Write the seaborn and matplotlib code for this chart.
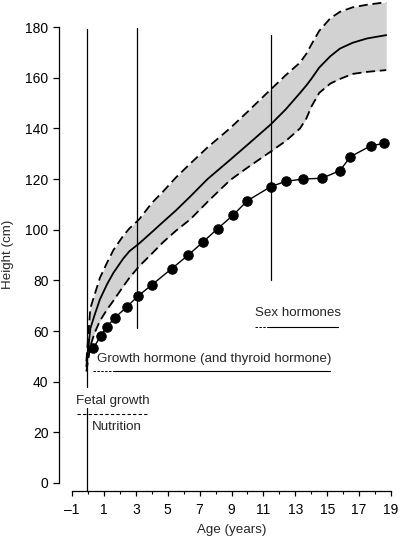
import numpy as np
import pandas as pd
import matplotlib
matplotlib.use("Agg")
import matplotlib.pyplot as plt
import seaborn as sns

# ---- data ----
band_age = [-0.1, 0.15, 0.4, 0.75, 1.2, 1.6, 2.2, 2.6, 3.2, 4.0, 4.7, 5.5, 6.4, 7.5,
            8.9, 10.0, 11.45, 12.4, 13.3, 13.7, 14.0, 14.5, 15.2, 15.8, 16.6, 17.5, 18.7]
mean_height = [46, 61, 66, 72.5, 78.5, 83, 88.5, 91.5, 94.5, 99, 103, 107.5, 113, 120,
               127.5, 133.5, 141.5, 147.5, 154, 157, 159.5, 164, 168.5, 171.5, 173.8, 175.5, 176.8]
upper_height = [48, 69, 74, 81, 87, 92, 97.5, 100.5, 104, 110.5, 115, 120.5, 126, 132.5,
                140, 146.5, 155.3, 161, 166, 169.5, 173, 178.5, 183.5, 186, 187.8, 188.8, 189.8]
lower_height = [44, 54, 59, 64, 68.5, 72, 77.5, 81, 85.5, 90.5, 95, 99.5, 104, 111,
                119.5, 124.5, 130.8, 135, 140, 144, 148.5, 154, 157.7, 159.5, 161.5, 162.3, 163]

child_age = [0.34, 0.80, 1.18, 1.70, 2.43, 3.12, 4.0, 5.25, 6.29, 7.19, 8.13,
             9.11, 9.99, 11.46, 12.42, 13.5, 14.66, 15.8, 16.45, 17.73, 18.58]
child_height = [53.3, 58.0, 61.7, 65.3, 69.5, 73.7, 78.2, 84.6, 90.0, 95.0, 100.4,
                105.8, 111.4, 117.0, 119.1, 120.0, 120.3, 123.3, 128.8, 133.1, 134.1]

# vertical markers (age, top height, bottom height)
marker_age = [-0.08, 3.1, 11.45]
marker_top = [179.2, 179.5, 176.8]
marker_bottom = [37.9, 61.0, 80.0]

# influence ranges
infl_labels = ["Sex hormones", "Growth hormone (and thyroid hormone)", "Fetal growth", "Nutrition"]
sex_range = [10.47, 11.35, 15.7]
gh_range = [0.34, 1.57, 15.2]
fetal_range = [-0.7, 3.7]

x_ticks = [-1, 1, 3, 5, 7, 9, 11, 13, 15, 17, 19]
y_ticks = [0, 20, 40, 60, 80, 100, 120, 140, 160, 180]

# ---- plotting ----
sns.set_style("ticks")
plt.rcParams['font.family'] = ['Liberation Sans', 'DejaVu Sans']

W, H = 400, 538
fig = plt.figure(figsize=(W / 100, H / 100), dpi=100)
ax = fig.add_axes([72 / W, (H - 483) / H, 319 / W, 481.3 / H])

band = pd.DataFrame({"age": band_age, "mean": mean_height,
                     "upper": upper_height, "lower": lower_height})
child = pd.DataFrame({"age": child_age, "height": child_height})

ax.fill_between(band["age"], band["lower"], band["upper"], color="#d2d2d2", lw=0, zorder=1)
sns.lineplot(data=band, x="age", y="mean", ax=ax, color="black", lw=1.3, zorder=3)
for col in ["upper", "lower"]:
    sns.lineplot(data=band, x="age", y=col, ax=ax, color="black", lw=1.3,
                 zorder=3).lines[-1].set_dashes((5, 2.6))
sns.lineplot(data=child, x="age", y="height", ax=ax, color="black", lw=1.0,
             marker="o", markersize=6.8, markeredgecolor="black", zorder=4)

# vertical markers
for a, t, b in zip(marker_age, marker_top, marker_bottom):
    ax.plot([a, a], [b, t], color="black", lw=0.9, zorder=2)
ax.plot([marker_age[0], marker_age[0]], [29.6, -3.0], color="black", lw=0.9,
        clip_on=False, zorder=2)

# influence annotations
fs = 9.6
ax.text(sex_range[0], 67.1, infl_labels[0], fontsize=fs, ha="left", va="center")
ax.plot([sex_range[0], sex_range[1]], [61.7, 61.7], color="black", lw=0.7, dashes=(2.5, 1.5))
ax.plot([sex_range[1], sex_range[2]], [61.7, 61.7], color="black", lw=0.8)

ax.text(0.55, 49.0, infl_labels[1], fontsize=fs, ha="left", va="center")
ax.plot([gh_range[0], gh_range[1]], [44.3, 44.3], color="black", lw=0.7, dashes=(2.5, 1.5))
ax.plot([gh_range[1], gh_range[2]], [44.3, 44.3], color="black", lw=0.8)

ax.text(-0.72, 32.5, infl_labels[2], fontsize=fs, ha="left", va="center")
ax.plot(fetal_range, [27.1, 27.1], color="black", lw=0.8, dashes=(3, 2))
ax.text(0.24, 22.0, infl_labels[3], fontsize=fs, ha="left", va="center")

# axes styling
ax.set_xlim(-1, 19)
ax.set_ylim(0, 190)
ax.set_xticks(x_ticks)
ax.set_xticklabels([str(v).replace("-", "\u2013") for v in x_ticks])
ax.set_xticks(np.arange(0, 19, 2), minor=True)
ax.set_yticks(y_ticks)
ax.set_yticklabels([str(v) for v in y_ticks])
sns.despine(ax=ax)
ax.spines["left"].set_position(("outward", 9.4))
ax.spines["bottom"].set_position(("outward", 5.8))
ax.spines["left"].set_bounds(0, 180)
ax.spines["bottom"].set_bounds(-1, 19)
for s in ["left", "bottom"]:
    ax.spines[s].set_linewidth(0.9)
    ax.spines[s].set_color("black")
ax.tick_params(axis="y", which="major", length=4.5, width=0.9, pad=3, labelsize=10, colors="black")
ax.tick_params(axis="x", which="major", length=3.5, width=0.9, pad=5, labelsize=10, colors="black")
ax.tick_params(axis="x", which="minor", length=2, width=0.8, colors="black")
ax.set_xlabel("Age (years)", fontsize=9.6, labelpad=5)
ax.set_ylabel("Height (cm)", fontsize=9.6, labelpad=8)
ax.yaxis.label.set_y(0.476)
ax.patch.set_alpha(0)

fig.savefig("out.png", dpi=100)
